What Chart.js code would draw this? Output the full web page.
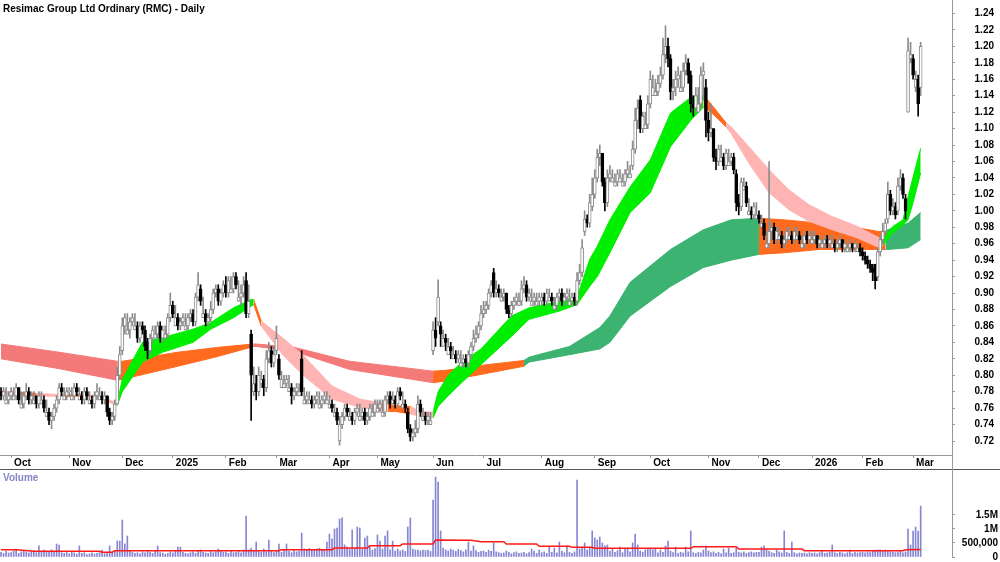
<!DOCTYPE html>
<html lang="en">
<head>
<meta charset="UTF-8">
<title>Resimac Group Ltd Ordinary (RMC) - Daily</title>
<script src="https://cdn.jsdelivr.net/npm/chart.js"></script>
<style>
  body { margin: 0; background: #fff; }
  #wrap { position: relative; width: 1000px; height: 562px; overflow: hidden; font-family: "Liberation Sans", Arial, sans-serif; }
  #priceChart { position: absolute; left: 0; top: 0; }
  #volChart { position: absolute; left: 0; top: 470px; }
  #sep { position: absolute; left: 0; top: 469px; width: 1000px; height: 1px; background: #555; }
  #axisGap { position: absolute; left: 952px; top: 455px; width: 1px; height: 15px; background: #999; }
  #title { position: absolute; left: 3px; top: 3px; font-size: 10px; font-weight: bold; color: #000; }
  #volLabel { position: absolute; left: 3px; top: 472px; font-size: 10px; font-weight: bold; color: #8585c8; }
</style>
</head>
<body>
<div id="wrap">
  <canvas id="priceChart" width="1000" height="469"></canvas>
  <canvas id="volChart" width="1000" height="92"></canvas>
  <div id="sep"></div>
  <div id="axisGap"></div>
  <div id="title">Resimac Group Ltd Ordinary (RMC) - Daily</div>
  <div id="volLabel">Volume</div>
</div>
<script>
// trading days per month, Sep 2024 (tail) .. Mar 2026 (head)
const monthLabels = ['', 'Oct', 'Nov', 'Dec', '2025', 'Feb', 'Mar', 'Apr', 'May', 'Jun', 'Jul', 'Aug', 'Sep', 'Oct', 'Nov', 'Dec', '2026', 'Feb', 'Mar'];
const monthDays = [4, 23, 21, 20, 21, 20, 21, 19, 22, 20, 23, 21, 22, 23, 20, 21, 20, 20, 4];

const priceTicks = [0.72, 0.74, 0.76, 0.78, 0.80, 0.82, 0.84, 0.86, 0.88, 0.90, 0.92, 0.94, 0.96, 0.98,
  1.00, 1.02, 1.04, 1.06, 1.08, 1.10, 1.12, 1.14, 1.16, 1.18, 1.20, 1.22, 1.24];
const volTicks = [0, 500000, 1000000, 1500000];

const open = [
  0.78, 0.775, 0.765, 0.77,
  0.775, 0.77, 0.775, 0.785, 0.76, 0.765, 0.775, 0.78, 0.77, 0.765, 0.775, 0.765, 0.765, 0.77, 0.75, 0.755, 0.745, 0.75, 0.76, 0.77, 0.785, 0.77, 0.775,
  0.78, 0.77, 0.775, 0.785, 0.77, 0.775, 0.77, 0.78, 0.765, 0.77, 0.765, 0.775, 0.77, 0.775, 0.77, 0.775, 0.755, 0.745, 0.75, 0.765, 0.8,
  0.83, 0.86, 0.85, 0.855, 0.865, 0.855, 0.86, 0.845, 0.86, 0.855, 0.84, 0.83, 0.845, 0.845, 0.85, 0.86, 0.845, 0.845, 0.85, 0.87,
  0.885, 0.86, 0.87, 0.86, 0.865, 0.855, 0.86, 0.87, 0.875, 0.865, 0.895, 0.905, 0.87, 0.875, 0.865, 0.87, 0.88, 0.9, 0.905, 0.89, 0.9,
  0.91, 0.9, 0.9, 0.905, 0.92, 0.89, 0.895, 0.9, 0.915, 0.875, 0.85, 0.78, 0.79, 0.78, 0.79, 0.795, 0.785, 0.82, 0.83, 0.815,
  0.83, 0.82, 0.785, 0.785, 0.79, 0.78, 0.785, 0.775, 0.78, 0.775, 0.82, 0.765, 0.77, 0.765, 0.77, 0.765, 0.77, 0.76, 0.765, 0.77, 0.765,
  0.76, 0.765, 0.75, 0.755, 0.72, 0.74, 0.75, 0.76, 0.745, 0.75, 0.745, 0.755, 0.745, 0.75, 0.755, 0.745, 0.75, 0.75, 0.755,
  0.755, 0.76, 0.75, 0.755, 0.77, 0.775, 0.765, 0.77, 0.765, 0.78, 0.76, 0.765, 0.755, 0.735, 0.725, 0.73, 0.735, 0.765, 0.745, 0.75, 0.745, 0.74,
  0.83, 0.855, 0.865, 0.86, 0.835, 0.845, 0.825, 0.835, 0.82, 0.825, 0.82, 0.81, 0.815, 0.82, 0.815, 0.825, 0.835, 0.845, 0.85, 0.86,
  0.875, 0.88, 0.885, 0.9, 0.925, 0.9, 0.905, 0.89, 0.895, 0.9, 0.88, 0.875, 0.885, 0.89, 0.885, 0.89, 0.905, 0.91, 0.895, 0.885, 0.89, 0.885, 0.89,
  0.89, 0.895, 0.89, 0.89, 0.895, 0.88, 0.885, 0.895, 0.9, 0.89, 0.895, 0.885, 0.89, 0.895, 0.89, 0.915, 0.925, 0.975, 0.99, 0.985, 1.005,
  1.02, 1.04, 1.065, 1.07, 1.035, 1.01, 1.04, 1.035, 1.03, 1.035, 1.035, 1.03, 1.035, 1.045, 1.04, 1.055, 1.075, 1.11, 1.135, 1.1, 1.1, 1.105,
  1.13, 1.14, 1.14, 1.145, 1.155, 1.165, 1.19, 1.2, 1.185, 1.145, 1.15, 1.16, 1.145, 1.15, 1.17, 1.18, 1.165, 1.13, 1.125, 1.12, 1.13, 1.165, 1.15,
  1.11, 1.095, 1.1, 1.065, 1.06, 1.06, 1.065, 1.055, 1.055, 1.06, 1.065, 1.045, 1.01, 1.005, 1.025, 1.03, 0.995, 1.0, 0.995, 0.99,
  0.995, 0.98, 0.985, 0.955, 0.96, 0.975, 0.98, 0.965, 0.965, 0.97, 0.96, 0.965, 0.965, 0.97, 0.965, 0.965, 0.97, 0.955, 0.96, 0.97, 0.965,
  0.96, 0.965, 0.97, 0.96, 0.955, 0.96, 0.965, 0.96, 0.955, 0.96, 0.955, 0.96, 0.965, 0.955, 0.95, 0.955, 0.96, 0.955, 0.95, 0.955,
  0.95, 0.945, 0.94, 0.935, 0.93, 0.935, 0.92, 0.95, 0.965, 0.975, 0.99, 1.02, 1.0, 1.005, 1.0, 1.03, 1.04, 1.015, 1.12, 1.185,
  1.185, 1.15, 1.16, 1.15
];
const high = [
  0.785, 0.785, 0.785, 0.78,
  0.785, 0.785, 0.79, 0.785, 0.78, 0.78, 0.79, 0.785, 0.78, 0.78, 0.775, 0.78, 0.78, 0.775, 0.77, 0.76, 0.755, 0.765, 0.775, 0.79, 0.79, 0.785, 0.785,
  0.785, 0.785, 0.79, 0.79, 0.785, 0.78, 0.785, 0.785, 0.78, 0.775, 0.78, 0.79, 0.785, 0.78, 0.78, 0.775, 0.76, 0.755, 0.77, 0.81, 0.835,
  0.87, 0.875, 0.875, 0.87, 0.875, 0.875, 0.865, 0.865, 0.865, 0.86, 0.845, 0.85, 0.86, 0.86, 0.865, 0.865, 0.86, 0.86, 0.875, 0.9,
  0.89, 0.885, 0.875, 0.87, 0.875, 0.875, 0.875, 0.88, 0.88, 0.9, 0.925, 0.91, 0.895, 0.88, 0.875, 0.89, 0.905, 0.91, 0.91, 0.905, 0.915,
  0.92, 0.92, 0.92, 0.925, 0.925, 0.915, 0.91, 0.92, 0.925, 0.91, 0.855, 0.81, 0.8, 0.81, 0.805, 0.8, 0.83, 0.84, 0.835, 0.835,
  0.86, 0.825, 0.805, 0.8, 0.8, 0.8, 0.79, 0.785, 0.79, 0.79, 0.83, 0.785, 0.78, 0.78, 0.775, 0.775, 0.78, 0.78, 0.775, 0.78, 0.78,
  0.775, 0.77, 0.765, 0.76, 0.75, 0.755, 0.765, 0.765, 0.76, 0.755, 0.76, 0.765, 0.765, 0.76, 0.76, 0.755, 0.765, 0.765, 0.77,
  0.77, 0.77, 0.77, 0.775, 0.78, 0.78, 0.78, 0.775, 0.785, 0.785, 0.78, 0.77, 0.76, 0.74, 0.735, 0.745, 0.775, 0.77, 0.76, 0.755, 0.755, 0.755,
  0.865, 0.87, 0.916, 0.865, 0.855, 0.85, 0.845, 0.84, 0.835, 0.83, 0.83, 0.83, 0.825, 0.825, 0.83, 0.84, 0.855, 0.86, 0.865, 0.885,
  0.89, 0.89, 0.905, 0.915, 0.93, 0.915, 0.91, 0.905, 0.905, 0.9, 0.885, 0.89, 0.895, 0.9, 0.9, 0.915, 0.92, 0.915, 0.905, 0.905, 0.9, 0.9, 0.9,
  0.9, 0.9, 0.905, 0.905, 0.9, 0.895, 0.9, 0.905, 0.905, 0.9, 0.905, 0.905, 0.9, 0.9, 0.925, 0.935, 0.965, 1.0, 0.995, 1.02, 1.04,
  1.05, 1.075, 1.08, 1.07, 1.04, 1.05, 1.055, 1.05, 1.045, 1.05, 1.05, 1.045, 1.05, 1.06, 1.055, 1.085, 1.125, 1.135, 1.14, 1.12, 1.12, 1.14,
  1.17, 1.165, 1.16, 1.165, 1.175, 1.21, 1.225, 1.21, 1.19, 1.16, 1.17, 1.175, 1.17, 1.18, 1.19, 1.185, 1.17, 1.14, 1.15, 1.15, 1.175, 1.18, 1.16,
  1.12, 1.13, 1.1, 1.075, 1.08, 1.08, 1.07, 1.075, 1.075, 1.07, 1.07, 1.05, 1.02, 1.04, 1.04, 1.035, 1.015, 1.005, 1.01, 1.01,
  1.0, 0.995, 0.99, 0.975, 1.06, 0.985, 0.985, 0.98, 0.98, 0.975, 0.97, 0.98, 0.98, 0.975, 0.98, 0.98, 0.975, 0.97, 0.975, 0.975, 0.975,
  0.975, 0.975, 0.97, 0.97, 0.965, 0.97, 0.97, 0.97, 0.97, 0.965, 0.965, 0.97, 0.965, 0.965, 0.96, 0.965, 0.96, 0.965, 0.96, 0.96,
  0.955, 0.95, 0.945, 0.94, 0.935, 0.935, 0.955, 0.97, 0.985, 0.99, 1.035, 1.025, 1.015, 1.01, 1.04, 1.05, 1.045, 1.02, 1.21, 1.205,
  1.19, 1.17, 1.165, 1.205
];
const low = [
  0.77, 0.77, 0.765, 0.765,
  0.77, 0.77, 0.77, 0.765, 0.76, 0.76, 0.77, 0.765, 0.765, 0.765, 0.76, 0.76, 0.765, 0.755, 0.75, 0.74, 0.735, 0.745, 0.755, 0.765, 0.775, 0.77, 0.77,
  0.775, 0.77, 0.77, 0.775, 0.77, 0.765, 0.765, 0.77, 0.765, 0.76, 0.76, 0.77, 0.77, 0.765, 0.765, 0.75, 0.74, 0.74, 0.745, 0.765, 0.795,
  0.825, 0.85, 0.85, 0.845, 0.86, 0.855, 0.84, 0.84, 0.85, 0.83, 0.82, 0.825, 0.84, 0.845, 0.845, 0.84, 0.84, 0.845, 0.845, 0.865,
  0.87, 0.86, 0.855, 0.855, 0.86, 0.855, 0.855, 0.865, 0.86, 0.86, 0.89, 0.885, 0.87, 0.86, 0.86, 0.865, 0.875, 0.895, 0.885, 0.885, 0.895,
  0.895, 0.895, 0.9, 0.9, 0.905, 0.89, 0.885, 0.895, 0.87, 0.87, 0.745, 0.775, 0.77, 0.775, 0.785, 0.775, 0.78, 0.815, 0.81, 0.81,
  0.825, 0.795, 0.785, 0.785, 0.785, 0.78, 0.765, 0.77, 0.775, 0.775, 0.775, 0.765, 0.765, 0.765, 0.76, 0.76, 0.765, 0.76, 0.76, 0.765, 0.765,
  0.76, 0.755, 0.75, 0.74, 0.715, 0.735, 0.745, 0.75, 0.745, 0.74, 0.74, 0.75, 0.745, 0.745, 0.74, 0.74, 0.745, 0.75, 0.75,
  0.755, 0.755, 0.75, 0.75, 0.765, 0.76, 0.765, 0.76, 0.76, 0.77, 0.76, 0.755, 0.73, 0.72, 0.72, 0.725, 0.73, 0.75, 0.745, 0.74, 0.74, 0.74,
  0.825, 0.835, 0.86, 0.835, 0.835, 0.83, 0.825, 0.82, 0.82, 0.815, 0.815, 0.81, 0.81, 0.81, 0.81, 0.82, 0.83, 0.84, 0.845, 0.855,
  0.87, 0.875, 0.88, 0.895, 0.895, 0.895, 0.895, 0.89, 0.89, 0.875, 0.87, 0.87, 0.88, 0.885, 0.885, 0.885, 0.9, 0.89, 0.89, 0.885, 0.885, 0.885, 0.885,
  0.885, 0.885, 0.885, 0.89, 0.885, 0.88, 0.88, 0.89, 0.885, 0.885, 0.89, 0.885, 0.885, 0.885, 0.885, 0.91, 0.92, 0.97, 0.98, 0.98, 1.0,
  1.015, 1.035, 1.055, 1.03, 1.0, 1.005, 1.035, 1.035, 1.03, 1.03, 1.035, 1.03, 1.03, 1.04, 1.04, 1.05, 1.07, 1.1, 1.095, 1.095, 1.1, 1.1,
  1.125, 1.14, 1.14, 1.14, 1.15, 1.16, 1.18, 1.175, 1.135, 1.135, 1.14, 1.15, 1.145, 1.145, 1.165, 1.155, 1.12, 1.115, 1.12, 1.12, 1.125, 1.135, 1.09,
  1.085, 1.09, 1.06, 1.05, 1.055, 1.06, 1.05, 1.05, 1.055, 1.055, 1.045, 1.0, 0.995, 1.0, 1.025, 1.005, 0.995, 0.99, 0.99, 0.99,
  0.985, 0.98, 0.965, 0.955, 0.955, 0.965, 0.96, 0.96, 0.965, 0.955, 0.955, 0.96, 0.965, 0.96, 0.96, 0.965, 0.96, 0.955, 0.955, 0.96, 0.96,
  0.96, 0.96, 0.955, 0.955, 0.955, 0.955, 0.955, 0.955, 0.955, 0.95, 0.95, 0.955, 0.95, 0.95, 0.95, 0.95, 0.95, 0.95, 0.95, 0.945,
  0.94, 0.935, 0.93, 0.925, 0.915, 0.905, 0.915, 0.945, 0.96, 0.97, 0.985, 0.995, 0.995, 0.99, 0.995, 1.025, 1.015, 0.99, 1.12, 1.18,
  1.16, 1.145, 1.115, 1.14
];
const close = [
  0.775, 0.78, 0.77, 0.775,
  0.78, 0.775, 0.785, 0.77, 0.765, 0.775, 0.78, 0.77, 0.775, 0.77, 0.765, 0.775, 0.77, 0.76, 0.755, 0.745, 0.75, 0.76, 0.77, 0.785, 0.78, 0.775, 0.78,
  0.78, 0.775, 0.785, 0.78, 0.775, 0.77, 0.78, 0.775, 0.77, 0.765, 0.775, 0.78, 0.775, 0.77, 0.775, 0.755, 0.745, 0.75, 0.765, 0.8, 0.825,
  0.86, 0.87, 0.855, 0.865, 0.87, 0.86, 0.845, 0.86, 0.855, 0.835, 0.83, 0.845, 0.855, 0.85, 0.86, 0.845, 0.855, 0.85, 0.87, 0.885,
  0.875, 0.87, 0.86, 0.865, 0.87, 0.86, 0.87, 0.875, 0.865, 0.895, 0.91, 0.89, 0.875, 0.865, 0.87, 0.88, 0.9, 0.905, 0.89, 0.9, 0.91,
  0.9, 0.915, 0.905, 0.92, 0.91, 0.895, 0.9, 0.91, 0.875, 0.89, 0.8, 0.79, 0.78, 0.8, 0.795, 0.785, 0.82, 0.83, 0.815, 0.825,
  0.845, 0.8, 0.795, 0.79, 0.795, 0.785, 0.775, 0.78, 0.785, 0.78, 0.78, 0.77, 0.775, 0.77, 0.765, 0.77, 0.775, 0.765, 0.77, 0.775, 0.77,
  0.765, 0.76, 0.755, 0.745, 0.74, 0.75, 0.76, 0.755, 0.75, 0.745, 0.755, 0.76, 0.75, 0.755, 0.745, 0.75, 0.76, 0.755, 0.765,
  0.76, 0.765, 0.755, 0.77, 0.775, 0.765, 0.77, 0.765, 0.78, 0.775, 0.765, 0.76, 0.735, 0.725, 0.73, 0.735, 0.765, 0.755, 0.75, 0.745, 0.75, 0.745,
  0.855, 0.845, 0.895, 0.85, 0.845, 0.84, 0.835, 0.83, 0.825, 0.82, 0.825, 0.815, 0.82, 0.815, 0.825, 0.835, 0.845, 0.85, 0.86, 0.875,
  0.88, 0.885, 0.9, 0.91, 0.9, 0.905, 0.9, 0.895, 0.9, 0.88, 0.875, 0.885, 0.89, 0.895, 0.89, 0.905, 0.91, 0.895, 0.9, 0.89, 0.895, 0.89, 0.895,
  0.895, 0.89, 0.9, 0.895, 0.89, 0.885, 0.895, 0.9, 0.89, 0.895, 0.9, 0.89, 0.895, 0.89, 0.915, 0.925, 0.955, 0.99, 0.985, 1.01, 1.02,
  1.04, 1.065, 1.07, 1.035, 1.01, 1.04, 1.045, 1.04, 1.035, 1.045, 1.04, 1.035, 1.045, 1.05, 1.045, 1.075, 1.11, 1.125, 1.1, 1.115, 1.105, 1.13,
  1.16, 1.15, 1.145, 1.155, 1.165, 1.19, 1.2, 1.185, 1.145, 1.15, 1.16, 1.165, 1.15, 1.17, 1.18, 1.165, 1.13, 1.125, 1.14, 1.13, 1.165, 1.17, 1.11,
  1.095, 1.1, 1.065, 1.06, 1.075, 1.065, 1.055, 1.07, 1.06, 1.065, 1.05, 1.01, 1.005, 1.035, 1.03, 1.01, 1.0, 0.995, 1.005, 0.995,
  0.99, 0.985, 0.97, 0.96, 0.975, 0.98, 0.965, 0.975, 0.97, 0.96, 0.965, 0.975, 0.97, 0.965, 0.975, 0.97, 0.965, 0.96, 0.97, 0.965, 0.97,
  0.965, 0.97, 0.96, 0.965, 0.96, 0.965, 0.96, 0.965, 0.96, 0.955, 0.96, 0.965, 0.955, 0.96, 0.955, 0.96, 0.955, 0.96, 0.955, 0.95,
  0.945, 0.94, 0.935, 0.93, 0.925, 0.915, 0.95, 0.965, 0.975, 0.985, 1.02, 1.0, 1.005, 0.995, 1.03, 1.04, 1.02, 1.0, 1.195, 1.19,
  1.165, 1.16, 1.13, 1.2
];
// volume in thousands of shares
const volumeK = [
  170, 130, 200, 145,
  155, 215, 285, 130, 185, 245, 170, 145, 200, 230, 155, 395, 185, 245, 215, 170, 255, 200, 465, 430, 155, 130, 185,
  115, 170, 145, 100, 395, 130, 155, 85, 115, 145, 105, 130, 155, 250, 115, 135, 395, 170, 215, 570, 570,
  1320, 465, 750, 215, 170, 130, 155, 115, 185, 145, 230, 170, 130, 200, 395, 155, 145, 100, 130, 185,
  145, 200, 355, 355, 170, 130, 115, 155, 185, 135, 215, 255, 170, 145, 130, 200, 155, 185, 285, 230, 170,
  185, 130, 230, 155, 170, 215, 145, 250, 1465, 255, 315, 215, 535, 200, 170, 285, 185, 605, 230, 155,
  215, 465, 170, 255, 465, 200, 155, 230, 185, 215, 855, 285, 255, 300, 270, 245, 285, 315, 255, 270, 535,
  820, 645, 1000, 1035, 1355, 1395, 430, 355, 285, 965, 315, 1070, 1035, 285, 680, 750, 355, 250, 300,
  785, 570, 285, 750, 930, 255, 570, 215, 285, 215, 255, 200, 1070, 1395, 285, 250, 250, 215, 250, 230, 250, 200,
  2035, 2855, 2680, 930, 315, 255, 215, 285, 245, 200, 270, 230, 185, 255, 535, 215, 395, 230, 170, 200,
  215, 170, 245, 200, 500, 185, 155, 130, 145, 215, 170, 115, 155, 185, 130, 145, 170, 115, 155, 285, 215, 130, 250,
  155, 185, 130, 355, 170, 320, 145, 535, 200, 155, 395, 170, 130, 185, 2750, 285, 355, 500, 255, 315, 930,
  680, 605, 715, 500, 395, 430, 215, 285, 170, 230, 355, 155, 285, 320, 185, 500, 820, 430, 215, 170, 255, 285,
  285, 255, 285, 145, 250, 170, 395, 570, 215, 155, 355, 130, 170, 145, 355, 185, 930, 155, 130, 170, 145, 250, 395,
  215, 155, 185, 130, 170, 115, 285, 145, 320, 130, 155, 320, 170, 145, 180, 130, 155, 185, 145, 170,
  170, 355, 395, 285, 215, 155, 130, 250, 185, 145, 930, 170, 130, 535, 155, 115, 145, 130, 145, 115, 155,
  130, 145, 115, 155, 215, 130, 145, 170, 430, 155, 130, 170, 145, 115, 155, 250, 130, 170, 145, 155,
  170, 145, 185, 155, 200, 250, 250, 255, 230, 250, 215, 185, 180, 155, 170, 200, 145, 185, 1000, 430,
  930, 1070, 930, 1820
];
// volume moving average line (trading-day index, thousands)
const volMaIdx = [0, 6, 13, 39, 40, 44, 45, 110, 111, 131, 132, 145, 146, 158, 159, 171, 172, 186, 190, 199, 200, 212,
  213, 225, 226, 234, 235, 273, 274, 291, 292, 317, 318, 357, 358, 364];
const volMaK = [260, 260, 205, 205, 170, 170, 225, 225, 260, 260, 320, 320, 405, 405, 465, 465, 605, 600, 545, 545, 465, 465,
  385, 385, 345, 345, 310, 310, 370, 370, 285, 285, 225, 225, 260, 270];

// short-term average ribbon (u = rising, d = falling, m = mixed)
const shortIdx = [0, 8, 14, 26, 32, 40, 46, 48, 56, 64, 76, 83, 92, 99, 100, 103, 112, 120, 131, 142,
  153, 156, 162, 166, 171, 173, 177, 182, 190, 202, 209, 221, 228, 233, 236, 241, 249, 257, 265, 273,
  278, 281, 287, 289, 296, 304, 312, 320, 329, 339, 347, 349, 353, 357, 359, 361, 364];
const shortTop = [0.781, 0.779, 0.778, 0.776, 0.777, 0.774, 0.766, 0.795, 0.84, 0.846, 0.856, 0.864, 0.882, 0.892, 0.892, 0.866, 0.844, 0.823, 0.787, 0.771,
  0.765, 0.763, 0.762, 0.756, 0.755, 0.78, 0.80, 0.815, 0.832, 0.872, 0.882, 0.89, 0.895, 0.941, 0.957, 0.989, 1.029, 1.062, 1.119, 1.138,
  1.141, 1.13, 1.107, 1.102, 1.078, 1.05, 1.025, 1.007, 0.993, 0.981, 0.968, 0.966, 0.981, 0.989, 1.017, 1.041, 1.076];
const shortBot = [0.777, 0.776, 0.775, 0.774, 0.775, 0.771, 0.763, 0.78, 0.816, 0.828, 0.84, 0.856, 0.87, 0.884, 0.886, 0.86, 0.823, 0.799, 0.771, 0.761,
  0.756, 0.756, 0.753, 0.75, 0.748, 0.762, 0.775, 0.79, 0.813, 0.847, 0.868, 0.878, 0.886, 0.908, 0.92, 0.949, 0.998, 1.022, 1.078, 1.11,
  1.126, 1.12, 1.102, 1.094, 1.058, 1.022, 1.001, 0.987, 0.977, 0.967, 0.956, 0.958, 0.973, 0.983, 0.989, 1.01, 1.046];
const shortState = ['d', 'm', 'd', 'm', 'd', 'd', 'u', 'u', 'u', 'u', 'u', 'u', 'u', 'u', 'm', 'd', 'd', 'd', 'd', 'd',
  'm', 'm', 'd', 'd', 'u', 'u', 'u', 'u', 'u', 'u', 'u', 'u', 'u', 'u', 'u', 'u', 'u', 'u', 'u', 'u',
  'm', 'm', 'd', 'd', 'd', 'd', 'd', 'd', 'd', 'd', 'd', 'u', 'u', 'u', 'u', 'u', 'u'];

// long-term average ribbon
const longIdx = [0, 23, 46, 48, 70, 86, 100, 101, 116, 138, 171, 176, 190, 207, 209, 225, 237, 241, 249, 265,
  278, 289, 300, 310, 324, 336, 347, 350, 351, 359, 364];
const longTop = [0.838, 0.828, 0.817, 0.817, 0.828, 0.834, 0.838, 0.838, 0.834, 0.817, 0.805, 0.806, 0.812, 0.818, 0.822, 0.835, 0.858, 0.872, 0.913, 0.953,
  0.977, 0.989, 0.991, 0.989, 0.985, 0.981, 0.975, 0.975, 0.977, 0.985, 0.998];
const longBot = [0.82, 0.808, 0.794, 0.795, 0.811, 0.823, 0.835, 0.835, 0.829, 0.807, 0.791, 0.793, 0.801, 0.811, 0.816, 0.825, 0.832, 0.84, 0.872, 0.908,
  0.931, 0.94, 0.947, 0.949, 0.953, 0.953, 0.953, 0.953, 0.953, 0.955, 0.965];
const longState = ['d', 'd', 'm', 'm', 'm', 'm', 'd', 'd', 'd', 'd', 'm', 'm', 'm', 'u', 'u', 'u', 'u', 'u', 'u', 'u',
  'u', 'u', 'm', 'm', 'm', 'm', 'm', 'u', 'u', 'u', 'u'];

const shortColors = { u: '#00ee00', d: '#ffb4b4', m: '#ff6a1e' };
const longColors = { u: '#3cb371', d: '#f47a7a', m: '#ff6a1e' };
const UP_GREY = '#8c8c8c';

Chart.defaults.font.family = '"Liberation Sans", Arial, sans-serif';
Chart.defaults.font.size = 10;
Chart.defaults.font.weight = 'bold';
Chart.defaults.color = '#000';

const tickIdx = [], tickText = [];
let pos = 0;
monthDays.forEach((n, k) => {
  if (monthLabels[k]) { tickIdx.push(pos); tickText.push(monthLabels[k]); }
  pos += n;
});

const isUp = i => close[i] >= open[i];

function ribbon(xs, top, bot, state, pal) {
  const sets = [];
  let a = 0;
  while (a < xs.length - 1) {
    let b = a + 1;
    while (b < xs.length - 1 && state[b] === state[a]) b++;
    const col = pal[state[a]];
    const pts = arr => xs.slice(a, b + 1).map((x, k) => ({ x, y: arr[a + k] }));
    sets.push({ type: 'line', data: pts(top), borderColor: col, backgroundColor: col, borderWidth: 1, pointRadius: 0, fill: '+1' });
    sets.push({ type: 'line', data: pts(bot), borderColor: col, borderWidth: 1, pointRadius: 0, fill: false });
    a = b;
  }
  return sets;
}

const priceFmt = v => v.toFixed(2);
const volFmt = v => v === 0 ? '0' : v >= 1000000 ? (v / 1000000) + 'M' : v.toLocaleString('en-US');
const noPad = s => { s.paddingTop = 0; s.paddingBottom = 0; s.paddingLeft = 0; s.paddingRight = 0; };

const X_MIN = -0.4, X_MAX = 376.4;
const base = {
  responsive: false, animation: false, events: [],
  plugins: { legend: { display: false }, tooltip: { enabled: false } }
};

new Chart(document.getElementById('priceChart'), {
  type: 'bar',
  data: {
    datasets: [
      {
        data: close.map((c, i) => ({ x: i, y: [Math.min(open[i], c), Math.max(open[i], c)] })),
        backgroundColor: ctx => isUp(ctx.dataIndex) ? '#ffffff' : '#000000',
        borderColor: ctx => isUp(ctx.dataIndex) ? UP_GREY : '#000000',
        borderWidth: 1, borderSkipped: false, barThickness: 3, minBarLength: 1, grouped: false
      },
      {
        data: high.map((h, i) => ({ x: i, y: [low[i], h] })),
        backgroundColor: ctx => isUp(ctx.dataIndex) ? UP_GREY : '#000000',
        barThickness: 1, grouped: false
      },
      ...ribbon(shortIdx, shortTop, shortBot, shortState, shortColors),
      ...ribbon(longIdx, longTop, longBot, longState, longColors)
    ]
  },
  options: {
    ...base,
    layout: { padding: { left: 0, top: 0, bottom: 0, right: 6 } },
    scales: {
      x: {
        type: 'linear', min: X_MIN, max: X_MAX, offset: false,
        grid: { drawOnChartArea: false, offset: false, tickLength: 3, color: '#999' },
        border: { color: '#999' },
        ticks: { autoSkip: false, maxRotation: 0, align: 'start', labelOffset: 3, padding: -1,
                 callback: (v, i) => tickText[i] },
        afterBuildTicks: s => { s.ticks = tickIdx.map(v => ({ value: v })); },
        afterFit: s => { s.height = 14; noPad(s); }
      },
      y: {
        type: 'linear', position: 'right', min: 0.703, max: 1.2564, beginAtZero: false,
        grid: { drawOnChartArea: false, tickLength: 3, color: '#999' },
        border: { color: '#999' },
        ticks: { crossAlign: 'far', padding: 0, callback: priceFmt },
        afterBuildTicks: s => { s.ticks = priceTicks.map(v => ({ value: v })); },
        afterFit: s => { s.width = 42; noPad(s); }
      }
    }
  }
});

new Chart(document.getElementById('volChart'), {
  type: 'bar',
  data: {
    datasets: [
      { type: 'line', data: volMaIdx.map((x, k) => ({ x, y: volMaK[k] * 1000 })), borderColor: '#ff1a1a', borderWidth: 1.5, pointRadius: 0 },
      { data: volumeK.map((v, i) => ({ x: i, y: v * 1000 })), backgroundColor: '#8686d4', barThickness: 1, grouped: false }
    ]
  },
  options: {
    ...base,
    layout: { padding: { left: 0, top: 0, bottom: 5, right: 2 } },
    scales: {
      x: { type: 'linear', min: X_MIN, max: X_MAX, offset: false, display: false },
      y: {
        type: 'linear', position: 'right', min: 0, max: 3107000,
        grid: { drawOnChartArea: false, tickLength: 3, color: '#999' },
        border: { color: '#999' },
        ticks: { crossAlign: 'far', padding: 0, callback: volFmt },
        afterBuildTicks: s => { s.ticks = volTicks.map(v => ({ value: v })); },
        afterFit: s => { s.width = 46; noPad(s); }
      }
    }
  }
});
</script>
</body>
</html>
